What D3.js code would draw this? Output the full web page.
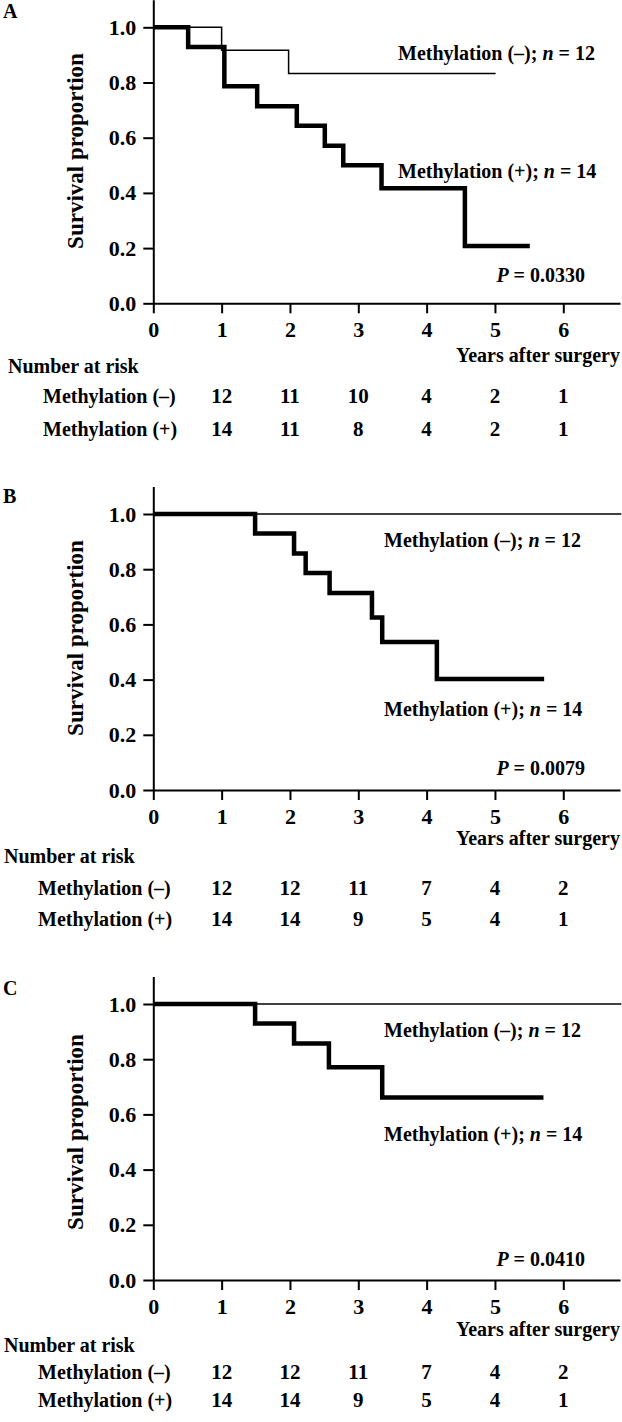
<!DOCTYPE html>
<html>
<head>
<meta charset="utf-8">
<script src="https://cdn.jsdelivr.net/npm/d3@7"></script>
<style>
  html, body { margin: 0; padding: 0; background: #fff; }
  svg { display: block; }
  text { font-family: "Liberation Serif", "Times New Roman", serif; font-weight: bold; fill: #000; }
</style>
</head>
<body>
<svg id="chart" width="622" height="1422"></svg>
<script>
// ---------------- DATA ----------------
const panelLetters = ["A", "B", "C"];
const xTickValues = [0, 1, 2, 3, 4, 5, 6];
const yTickValues = [0, 0.2, 0.4, 0.6, 0.8, 1.0];
const riskColumns = [1, 2, 3, 4, 5, 6];
const seriesNegLabel = "Methylation (–)";
const seriesPosLabel = "Methylation (+)";
const nNeg = 12;
const nPos = 14;
const pValues = ["0.0330", "0.0079", "0.0410"];

// Panel A
const aNegTimes = [0, 1.0, 1.98];
const aNegSurv  = [1, 0.917, 0.833];
const aNegEnd   = 5.01;
const aPosTimes = [0, 0.51, 1.04, 1.52, 2.10, 2.51, 2.78, 3.34, 4.56];
const aPosSurv  = [1, 0.929, 0.786, 0.714, 0.643, 0.571, 0.500, 0.417, 0.208];
const aPosEnd   = 5.51;
const aRiskNeg  = [12, 11, 10, 4, 2, 1];
const aRiskPos  = [14, 11, 8, 4, 2, 1];

// Panel B
const bNegTimes = [0];
const bNegSurv  = [1];
const bNegEnd   = 6.85;
const bPosTimes = [0, 1.49, 2.06, 2.23, 2.58, 3.20, 3.35, 4.15];
const bPosSurv  = [1, 0.929, 0.857, 0.786, 0.714, 0.625, 0.536, 0.402];
const bPosEnd   = 5.72;
const bRiskNeg  = [12, 12, 11, 7, 4, 2];
const bRiskPos  = [14, 14, 9, 5, 4, 1];

// Panel C
const cNegTimes = [0];
const cNegSurv  = [1];
const cNegEnd   = 6.85;
const cPosTimes = [0, 1.49, 2.06, 2.57, 3.35];
const cPosSurv  = [1, 0.929, 0.857, 0.771, 0.661];
const cPosEnd   = 5.71;
const cRiskNeg  = [12, 12, 11, 7, 4, 2];
const cRiskPos  = [14, 14, 9, 5, 4, 1];

// ---------------- LAYOUT ----------------
const panels = [
  { neg: [aNegTimes, aNegSurv, aNegEnd], pos: [aPosTimes, aPosSurv, aPosEnd], riskNeg: aRiskNeg, riskPos: aRiskPos,
    y0: 303.3, letterY: 18, labelX: 398, negLabelY: 60, posLabelY: 178.3, pY: 281.7,
    yearsY: 362, narY: 373, narX: 8, rowX: 43, rowNegY: 403, rowPosY: 436, yLabelC: 151 },
  { neg: [bNegTimes, bNegSurv, bNegEnd], pos: [bPosTimes, bPosSurv, bPosEnd], riskNeg: bRiskNeg, riskPos: bRiskPos,
    y0: 790, letterY: 503, labelX: 384, negLabelY: 547.3, posLabelY: 716, pY: 775,
    yearsY: 845, narY: 862.7, narX: 4, rowX: 38, rowNegY: 895, rowPosY: 926, yLabelC: 638 },
  { neg: [cNegTimes, cNegSurv, cNegEnd], pos: [cPosTimes, cPosSurv, cPosEnd], riskNeg: cRiskNeg, riskPos: cRiskPos,
    y0: 1280, letterY: 995, labelX: 384, negLabelY: 1036.7, posLabelY: 1141, pY: 1266,
    yearsY: 1336, narY: 1352, narX: 4, rowX: 38, rowNegY: 1379, rowPosY: 1407, yLabelC: 1132 }
];

const svg = d3.select("#chart");
svg.append("rect").attr("width", 622).attr("height", 1422).attr("fill", "#fff");

const x = d3.scaleLinear().domain([0, 6.83]).range([153.3, 620]);
const unitPx = 276;

function stepPoints(times, surv, end) {
  const pts = times.map((t, i) => [t, surv[i]]);
  pts.push([end, surv[surv.length - 1]]);
  return pts;
}

panels.forEach((p, idx) => {
  const y = d3.scaleLinear().domain([0, 1.1]).range([p.y0, p.y0 - 1.1 * unitPx]);
  const g = svg.append("g");

  // panel letter
  g.append("text").attr("x", 3).attr("y", p.letterY).style("font-size", "20px").text(panelLetters[idx]);

  // axes
  const xAxis = d3.axisBottom(x).tickValues(xTickValues).tickSize(10).tickPadding(8).tickSizeOuter(0).tickFormat(d3.format("d"));
  const yAxis = d3.axisLeft(y).tickValues(yTickValues).tickSize(10).tickPadding(7).tickSizeOuter(0).tickFormat(d3.format(".1f"));

  const gx = g.append("g").attr("transform", `translate(0,${p.y0})`).call(xAxis);
  const gy = g.append("g").attr("transform", `translate(${x(0)},0)`).call(yAxis);
  [gx, gy].forEach(a => {
    a.selectAll("path.domain").attr("stroke", "#000").attr("stroke-width", 2);
    a.selectAll(".tick line").attr("stroke", "#000").attr("stroke-width", 2);
    a.selectAll(".tick text").style("font-size", "22px").style("font-family", "'Liberation Serif', 'Times New Roman', serif").style("font-weight", "bold").attr("fill", "#000");
  });

  // y label
  g.append("text")
    .attr("transform", `translate(83,${p.yLabelC}) rotate(-90)`)
    .attr("text-anchor", "middle")
    .style("font-size", "23px")
    .text("Survival proportion");

  // curves
  const line = d3.line().x(d => x(d[0])).y(d => y(d[1])).curve(d3.curveStepAfter);
  g.append("path").datum(stepPoints(...p.neg)).attr("d", line)
    .attr("fill", "none").attr("stroke", "#000").attr("stroke-width", 1.5);
  g.append("path").datum(stepPoints(...p.pos)).attr("d", line)
    .attr("fill", "none").attr("stroke", "#000").attr("stroke-width", 4.5)
    .attr("stroke-linejoin", "miter").attr("stroke-linecap", "butt");

  // curve labels
  const lab = (yy, name, n) => {
    const t = g.append("text").attr("x", p.labelX).attr("y", yy).style("font-size", "20px");
    t.append("tspan").text(name + "; ");
    t.append("tspan").style("font-style", "italic").text("n");
    t.append("tspan").text(" = " + n);
  };
  lab(p.negLabelY, seriesNegLabel, nNeg);
  lab(p.posLabelY, seriesPosLabel, nPos);

  const pt = g.append("text").attr("x", 585).attr("y", p.pY).attr("text-anchor", "end").style("font-size", "20px");
  pt.append("tspan").style("font-style", "italic").text("P");
  pt.append("tspan").text(" = " + pValues[idx]);

  // x label
  g.append("text").attr("x", 620).attr("y", p.yearsY).attr("text-anchor", "end")
    .style("font-size", "20px").text("Years after surgery");

  // number at risk
  g.append("text").attr("x", p.narX).attr("y", p.narY).style("font-size", "20px").text("Number at risk");
  g.append("text").attr("x", p.rowX).attr("y", p.rowNegY).style("font-size", "20px").text(seriesNegLabel);
  g.append("text").attr("x", p.rowX).attr("y", p.rowPosY).style("font-size", "20px").text(seriesPosLabel);

  g.selectAll(null).data(p.riskNeg).enter().append("text")
    .attr("x", (d, i) => x(riskColumns[i])).attr("y", p.rowNegY)
    .attr("text-anchor", "middle").style("font-size", "21px").text(d => d);
  g.selectAll(null).data(p.riskPos).enter().append("text")
    .attr("x", (d, i) => x(riskColumns[i])).attr("y", p.rowPosY)
    .attr("text-anchor", "middle").style("font-size", "21px").text(d => d);
});
</script>
</body>
</html>
